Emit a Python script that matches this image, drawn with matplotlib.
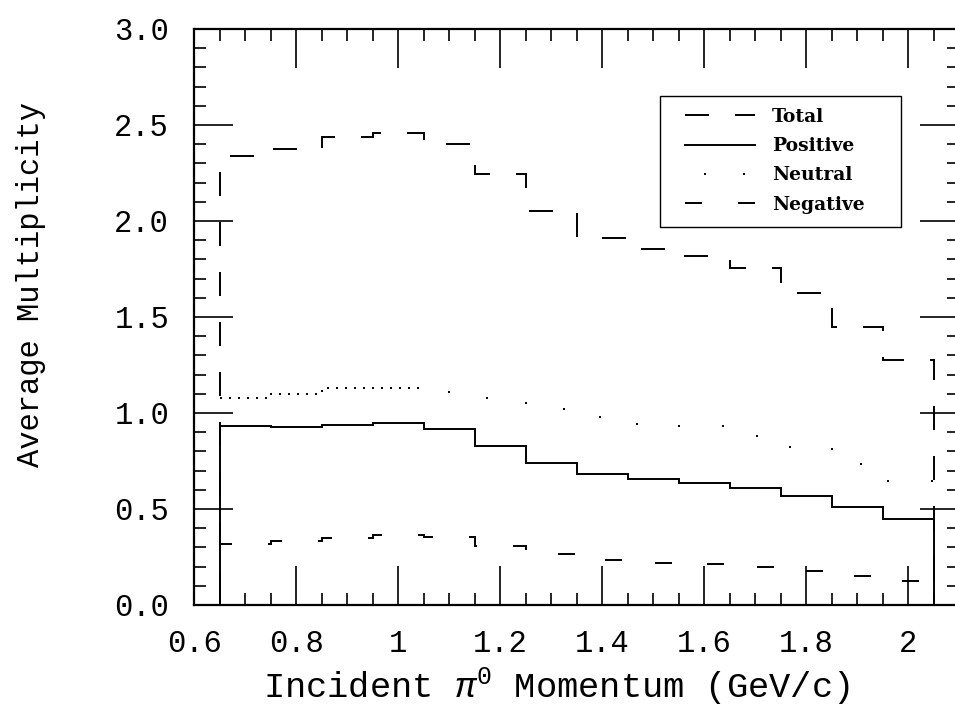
import matplotlib
matplotlib.use("Agg")
import matplotlib.pyplot as plt
from matplotlib.lines import Line2D
from matplotlib.patches import Rectangle
from matplotlib.ticker import MultipleLocator

# histogram bins in incident momentum (GeV/c)
bin_edges = [0.65, 0.75, 0.85, 0.95, 1.05, 1.15, 1.25, 1.35, 1.45, 1.55, 1.65, 1.75, 1.85, 1.95, 2.05]

# average multiplicity per bin
total = [2.34, 2.375, 2.435, 2.46, 2.40, 2.245, 2.05, 1.91, 1.855, 1.82, 1.755, 1.625, 1.45, 1.275]
positive = [0.93, 0.925, 0.938, 0.95, 0.915, 0.83, 0.74, 0.682, 0.655, 0.637, 0.611, 0.568, 0.509, 0.45]
neutral = [1.078, 1.10, 1.13, 1.13, 1.11, 1.08, 1.02, 0.98, 0.945, 0.93, 0.88, 0.825, 0.735, 0.645]
negative = [0.32, 0.335, 0.349, 0.364, 0.352, 0.309, 0.266, 0.234, 0.22, 0.212, 0.2, 0.179, 0.151, 0.125]

x_ticks = [0.6, 0.8, 1.0, 1.2, 1.4, 1.6, 1.8, 2.0]
x_tick_labels = ["0.6", "0.8", "1", "1.2", "1.4", "1.6", "1.8", "2"]
y_ticks = [0.0, 0.5, 1.0, 1.5, 2.0, 2.5, 3.0]
y_tick_labels = ["0.0", "0.5", "1.0", "1.5", "2.0", "2.5", "3.0"]
legend_labels = ["Total", "Positive", "Neutral", "Negative"]

plt.rcParams["font.family"] = ["Liberation Mono", "DejaVu Sans"]
plt.rcParams["mathtext.fontset"] = "custom"
plt.rcParams["mathtext.rm"] = "Liberation Mono"
plt.rcParams["mathtext.it"] = "Liberation Mono:italic"
plt.rcParams["lines.scale_dashes"] = False

PX = 0.72  # points per pixel at dpi 100
LW = 1.4

ls_total = (41 * PX, (24 * PX, 26 * PX))
ls_negative = (50 * PX, (17 * PX, 36 * PX))
ls_dots_dense = (0, (2 * PX, 7 * PX))
ls_dots_sparse = (20 * PX, (2 * PX, 42 * PX))

fig = plt.figure(figsize=(9.55, 7.15), dpi=100)
ax = fig.add_axes([194 / 955, 110 / 715, 765 / 955, 576 / 715])

ax.stairs(total, bin_edges, edgecolor="black", lw=LW, linestyle=ls_total)
ax.stairs(positive, bin_edges, edgecolor="black", lw=LW)
ax.stairs(neutral[:4], bin_edges[:5], baseline=None, edgecolor="black", lw=LW, linestyle=ls_dots_dense)
ax.stairs(neutral[4:], bin_edges[4:], baseline=None, edgecolor="black", lw=LW, linestyle=ls_dots_sparse)
ax.stairs(negative, bin_edges, edgecolor="black", lw=LW, linestyle=ls_negative)

ax.set_xlim(0.6, 2.1)
ax.set_ylim(0, 3.0)
ax.set_xticks(x_ticks, x_tick_labels)
ax.set_yticks(y_ticks, y_tick_labels)
ax.xaxis.set_minor_locator(MultipleLocator(0.05))
ax.yaxis.set_minor_locator(MultipleLocator(0.1))
ax.tick_params(which="both", direction="in", top=True, right=True, width=1.2, colors="black")
ax.tick_params(which="major", length=28)
ax.tick_params(which="minor", length=8.5)
ax.tick_params(axis="x", which="major", pad=17, labelsize=22)
ax.tick_params(axis="y", which="major", pad=18, labelsize=22)
for sp in ax.spines.values():
    sp.set_linewidth(1.6)

ax.set_xlabel(r"Incident $\pi^0$ Momentum (GeV/c)", fontsize=25.5)
ax.xaxis.set_label_coords(0.474, -0.105)
ax.set_ylabel("Average Multiplicity", fontsize=22)
ax.yaxis.set_label_coords(-0.193, 0.556)

# legend box drawn separately so the padding can be uneven like the original
ax.add_patch(Rectangle((0.609, 0.656), 0.315, 0.228, transform=ax.transAxes,
                       facecolor="white", edgecolor="black", lw=1.0, zorder=4))
handles = [
    Line2D([], [], color="black", lw=LW, linestyle=(0, (24 * PX, 26 * PX))),
    Line2D([], [], color="black", lw=LW),
    Line2D([], [], color="black", lw=LW, linestyle=(20 * PX, (2 * PX, 37 * PX))),
    Line2D([], [], color="black", lw=LW, linestyle=(0, (17 * PX, 36 * PX))),
]
leg = ax.legend(handles, legend_labels, loc="upper left",
                bbox_to_anchor=(0.6418, 0.863), frameon=False,
                borderaxespad=0, borderpad=0, handlelength=3.75, handletextpad=0.9,
                labelspacing=0.6,
                prop={"family": "DejaVu Serif", "weight": "bold", "size": 13.5})
leg.set_zorder(5)

fig.savefig("out.png", dpi=100)
